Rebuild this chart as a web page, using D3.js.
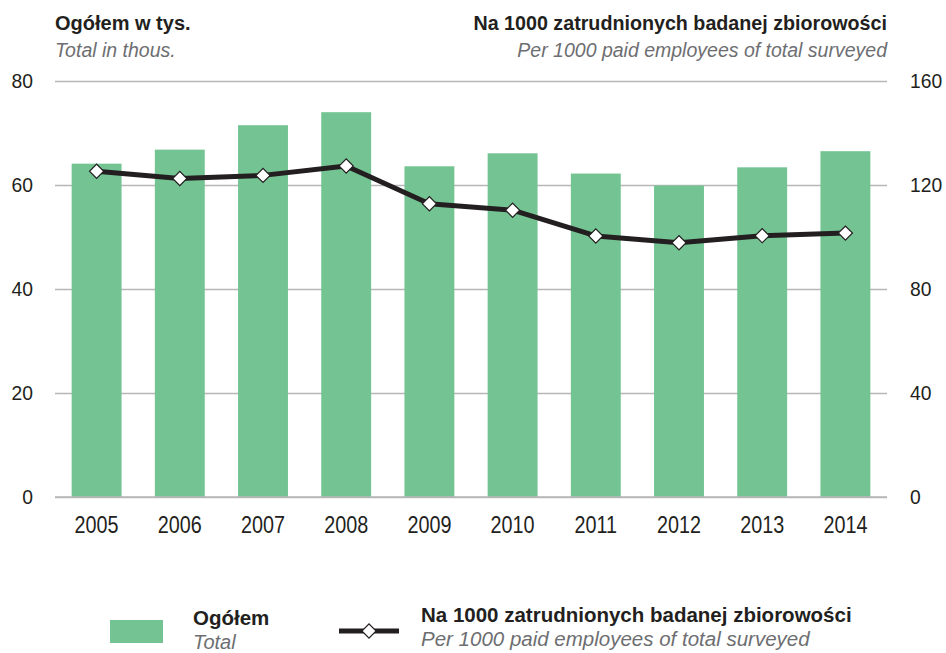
<!DOCTYPE html>
<html>
<head>
<meta charset="utf-8">
<script src="https://cdn.jsdelivr.net/npm/d3@7"></script>
<style>
  body { margin: 0; background: #fff; }
  svg { font-family: "Liberation Sans", Arial, sans-serif; }
</style>
</head>
<body>
<div id="chart"></div>
<script>
const years = ["2005", "2006", "2007", "2008", "2009", "2010", "2011", "2012", "2013", "2014"];
const totals = [64.1, 66.8, 71.5, 74.0, 63.6, 66.1, 62.2, 59.9, 63.4, 66.5];
const per1000 = [125.3, 122.5, 123.7, 127.3, 112.8, 110.3, 100.4, 97.8, 100.5, 101.5];
const leftTicks = [0, 20, 40, 60, 80];
const rightTicks = [0, 40, 80, 120, 160];

const width = 946;
const height = 653;
const margin = { left: 55, right: 59, top: 81, bottom: 156 };
const green = "#74c493";
const dark = "#231f20";
const grey = "#6d6e71";
const narrow = 0.92; // squeeze digits a bit, the original font is condensed
const narrowYears = 0.86;

const svg = d3.select("#chart")
  .append("svg")
  .attr("width", width)
  .attr("height", height);

const x = d3.scaleBand()
  .domain(years)
  .range([margin.left, width - margin.right])
  .paddingInner(0.4)
  .paddingOuter(0.2);

const yLeft = d3.scaleLinear()
  .domain([0, 80])
  .range([height - margin.bottom, margin.top]);

const yRight = d3.scaleLinear()
  .domain([0, 160])
  .range([height - margin.bottom, margin.top]);

// grid lines + left axis
const leftAxis = svg.append("g")
  .attr("transform", `translate(${margin.left},0)`)
  .call(d3.axisLeft(yLeft).tickValues(leftTicks).tickSize(-(width - margin.left - margin.right)).tickPadding(22));
leftAxis.select(".domain").remove();
leftAxis.selectAll(".tick line").attr("stroke", "#b7b7b7").attr("stroke-width", 1.5);
leftAxis.selectAll(".tick text")
  .attr("fill", dark).attr("font-size", 21)
  .attr("x", -22 / narrow)
  .attr("transform", `scale(${narrow},1)`);

const rightAxis = svg.append("g")
  .attr("transform", `translate(${width - margin.right},0)`)
  .call(d3.axisRight(yRight).tickValues(rightTicks).tickSize(0).tickPadding(22));
rightAxis.select(".domain").remove();
rightAxis.selectAll(".tick text")
  .attr("fill", dark).attr("font-size", 21)
  .attr("x", 23 / narrow)
  .attr("transform", `scale(${narrow},1)`);

// bars
svg.append("g")
  .selectAll("rect")
  .data(years)
  .join("rect")
  .attr("x", d => x(d))
  .attr("width", x.bandwidth())
  .attr("y", (d, i) => yLeft(totals[i]))
  .attr("height", (d, i) => yLeft(0) - yLeft(totals[i]))
  .attr("fill", green);

// baseline over bars
svg.append("line")
  .attr("x1", margin.left).attr("x2", width - margin.right)
  .attr("y1", yLeft(0)).attr("y2", yLeft(0))
  .attr("stroke", "#b7b7b7").attr("stroke-width", 1.5);

// x axis labels
const xAxis = svg.append("g")
  .attr("transform", `translate(0,${height - margin.bottom})`)
  .call(d3.axisBottom(x).tickSize(0).tickPadding(20));
xAxis.select(".domain").remove();
xAxis.selectAll(".tick text")
  .attr("fill", dark).attr("font-size", 23)
  .attr("transform", `scale(${narrowYears},1)`);

// line
const line = d3.line()
  .x((d, i) => x(years[i]) + x.bandwidth() / 2)
  .y(d => yRight(d));

svg.append("path")
  .datum(per1000)
  .attr("d", line)
  .attr("fill", "none")
  .attr("stroke", dark)
  .attr("stroke-width", 5)
  .attr("stroke-linejoin", "round");

const marker = d3.symbol().type(d3.symbolSquare).size(100);
svg.append("g")
  .selectAll("path")
  .data(per1000)
  .join("path")
  .attr("transform", (d, i) => `translate(${x(years[i]) + x.bandwidth() / 2},${yRight(d)}) rotate(45)`)
  .attr("d", marker)
  .attr("fill", "#fff")
  .attr("stroke", dark)
  .attr("stroke-width", 1.2);

// titles
svg.append("text")
  .attr("x", margin.left).attr("y", 30)
  .attr("font-size", 20).attr("font-weight", "bold").attr("fill", dark)
  .text("Ogółem w tys.");
svg.append("text")
  .attr("x", margin.left).attr("y", 57)
  .attr("font-size", 19.5).attr("font-style", "italic").attr("fill", grey)
  .text("Total in thous.");
svg.append("text")
  .attr("x", width - margin.right).attr("y", 30)
  .attr("text-anchor", "end")
  .attr("font-size", 19.7).attr("font-weight", "bold").attr("fill", dark)
  .text("Na 1000 zatrudnionych badanej zbiorowości");
svg.append("text")
  .attr("x", width - margin.right).attr("y", 57)
  .attr("text-anchor", "end")
  .attr("font-size", 19.5).attr("font-style", "italic").attr("fill", grey)
  .text("Per 1000 paid employees of total surveyed");

// legend
const legend = svg.append("g");
legend.append("rect")
  .attr("x", 110).attr("y", 620).attr("width", 53).attr("height", 23)
  .attr("fill", green);
legend.append("text")
  .attr("x", 193).attr("y", 625)
  .attr("font-size", 20.5).attr("font-weight", "bold").attr("fill", dark)
  .text("Ogółem");
legend.append("text")
  .attr("x", 193).attr("y", 649)
  .attr("font-size", 20).attr("font-style", "italic").attr("fill", grey)
  .text("Total");
legend.append("line")
  .attr("x1", 339).attr("x2", 399).attr("y1", 631).attr("y2", 631)
  .attr("stroke", dark).attr("stroke-width", 5);
legend.append("path")
  .attr("transform", "translate(369,631) rotate(45)")
  .attr("d", marker)
  .attr("fill", "#fff").attr("stroke", dark).attr("stroke-width", 1.2);
legend.append("text")
  .attr("x", 421).attr("y", 622)
  .attr("font-size", 20.5).attr("font-weight", "bold").attr("fill", dark)
  .text("Na 1000 zatrudnionych badanej zbiorowości");
legend.append("text")
  .attr("x", 421).attr("y", 646)
  .attr("font-size", 20.5).attr("font-style", "italic").attr("fill", grey)
  .text("Per 1000 paid employees of total surveyed");
</script>
</body>
</html>
